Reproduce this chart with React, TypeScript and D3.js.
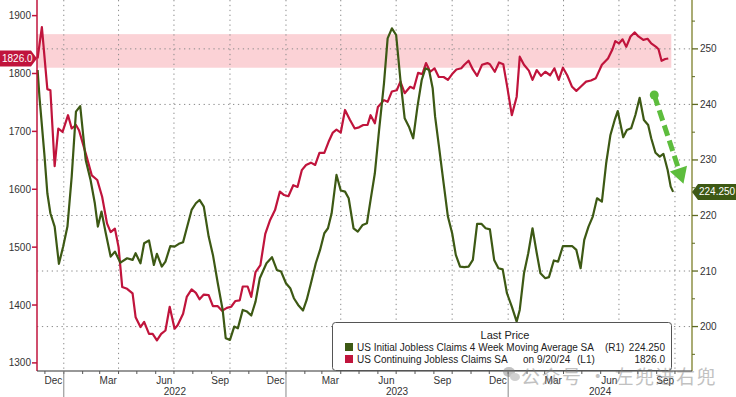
import React, { useEffect, useRef } from 'react';
import * as d3 from 'd3';

// US Initial Jobless Claims 4 Week Moving Average SA (thousands, right axis)
const initialClaims: [string, number][] = [
  ['2021-11-19', 246.2], ['2021-11-22', 241.4], ['2021-11-30', 231.2], ['2021-12-05', 224.0],
  ['2021-12-10', 220.4], ['2021-12-17', 218.0], ['2021-12-24', 211.3], ['2021-12-31', 214.4],
  ['2022-01-07', 218.0], ['2022-01-14', 227.0], ['2022-01-21', 238.7], ['2022-01-28', 239.7],
  ['2022-02-06', 230.0], ['2022-02-14', 226.4], ['2022-02-21', 222.2], ['2022-02-26', 218.0],
  ['2022-03-04', 220.7], ['2022-03-11', 216.8], ['2022-03-19', 212.6], ['2022-03-26', 213.5],
  ['2022-04-04', 211.5], ['2022-04-15', 212.3], ['2022-04-24', 212.0], ['2022-04-29', 213.2],
  ['2022-05-07', 211.4], ['2022-05-13', 215.0], ['2022-05-21', 215.5], ['2022-05-29', 211.1],
  ['2022-06-03', 213.1], ['2022-06-11', 210.8], ['2022-06-17', 211.7], ['2022-06-25', 214.5],
  ['2022-07-02', 214.4], ['2022-07-09', 214.9], ['2022-07-16', 215.2], ['2022-07-22', 217.7],
  ['2022-07-30', 221.0], ['2022-08-06', 222.2], ['2022-08-12', 222.8], ['2022-08-19', 221.6],
  ['2022-08-27', 216.2], ['2022-09-03', 212.9], ['2022-09-11', 207.8], ['2022-09-19', 203.0],
  ['2022-09-24', 197.9], ['2022-10-01', 197.6], ['2022-10-08', 200.0], ['2022-10-14', 199.7],
  ['2022-10-22', 203.0], ['2022-10-29', 202.7], ['2022-11-05', 202.0], ['2022-11-12', 204.5],
  ['2022-11-19', 208.7], ['2022-11-30', 211.4], ['2022-12-09', 212.5], ['2022-12-17', 210.2],
  ['2022-12-24', 209.9], ['2023-01-01', 207.8], ['2023-01-08', 206.9], ['2023-01-14', 205.1],
  ['2023-01-21', 203.9], ['2023-01-29', 202.9], ['2023-02-04', 204.8], ['2023-02-11', 207.8],
  ['2023-02-19', 211.4], ['2023-02-26', 213.8], ['2023-03-05', 216.8], ['2023-03-11', 217.7],
  ['2023-03-17', 220.4], ['2023-03-25', 227.3], ['2023-04-01', 224.5], ['2023-04-08', 224.3],
  ['2023-04-14', 223.1], ['2023-04-22', 217.7], ['2023-04-29', 217.1], ['2023-05-07', 218.3],
  ['2023-05-14', 218.6], ['2023-05-20', 222.8], ['2023-05-27', 227.6], ['2023-06-03', 235.4],
  ['2023-06-11', 243.8], ['2023-06-17', 251.9], ['2023-06-24', 253.7], ['2023-07-01', 252.5],
  ['2023-07-08', 244.4], ['2023-07-15', 237.5], ['2023-07-22', 236.0], ['2023-07-29', 233.9],
  ['2023-08-05', 239.6], ['2023-08-12', 244.4], ['2023-08-18', 246.5], ['2023-08-24', 246.2],
  ['2023-08-30', 242.9], ['2023-09-03', 237.8], ['2023-09-09', 232.7], ['2023-09-17', 225.8],
  ['2023-09-24', 219.8], ['2023-10-01', 216.8], ['2023-10-07', 212.9], ['2023-10-14', 210.8],
  ['2023-10-21', 210.7], ['2023-10-28', 210.8], ['2023-11-04', 212.0], ['2023-11-11', 218.5],
  ['2023-11-18', 218.5], ['2023-11-25', 217.7], ['2023-12-02', 217.5], ['2023-12-09', 212.0],
  ['2023-12-16', 210.5], ['2023-12-23', 210.3], ['2023-12-30', 206.0], ['2024-01-07', 203.6],
  ['2024-01-15', 200.9], ['2024-01-20', 203.0], ['2024-01-27', 209.6], ['2024-02-03', 213.2],
  ['2024-02-10', 217.7], ['2024-02-17', 213.2], ['2024-02-23', 209.6], ['2024-03-02', 208.7],
  ['2024-03-08', 208.9], ['2024-03-16', 211.9], ['2024-03-23', 211.7], ['2024-03-31', 214.5],
  ['2024-04-08', 214.5], ['2024-04-15', 214.5], ['2024-04-22', 213.8], ['2024-04-29', 210.5],
  ['2024-05-05', 215.6], ['2024-05-12', 218.0], ['2024-05-19', 219.8], ['2024-05-26', 223.1],
  ['2024-06-03', 222.5], ['2024-06-10', 229.4], ['2024-06-17', 234.5], ['2024-06-24', 237.2],
  ['2024-06-29', 238.8], ['2024-07-08', 234.1], ['2024-07-14', 235.4], ['2024-07-21', 235.7],
  ['2024-07-28', 238.1], ['2024-08-04', 241.2], ['2024-08-11', 237.2], ['2024-08-18', 236.3],
  ['2024-08-23', 233.9], ['2024-08-30', 231.3], ['2024-09-06', 230.6], ['2024-09-12', 231.1],
  ['2024-09-19', 228.2], ['2024-09-24', 225.2], ['2024-09-28', 224.25],
];

// US Continuing Jobless Claims SA (thousands, left axis)
const continuingClaims: [string, number][] = [
  ['2021-11-19', 1826], ['2021-11-26', 1880], ['2021-12-05', 1773], ['2021-12-10', 1771],
  ['2021-12-17', 1640], ['2021-12-23', 1705], ['2021-12-30', 1699], ['2022-01-08', 1728],
  ['2022-01-14', 1705], ['2022-01-21', 1711], ['2022-01-26', 1702], ['2022-02-06', 1662],
  ['2022-02-16', 1624], ['2022-02-25', 1616], ['2022-03-05', 1587], ['2022-03-13', 1541],
  ['2022-03-19', 1526], ['2022-03-26', 1532], ['2022-04-01', 1500], ['2022-04-07', 1431],
  ['2022-04-15', 1428], ['2022-04-24', 1420], ['2022-04-29', 1379], ['2022-05-07', 1362],
  ['2022-05-13', 1371], ['2022-05-21', 1350], ['2022-05-27', 1350], ['2022-06-03', 1339],
  ['2022-06-10', 1350], ['2022-06-17', 1356], ['2022-06-24', 1397], ['2022-07-02', 1359],
  ['2022-07-07', 1365], ['2022-07-16', 1385], ['2022-07-22', 1414], ['2022-07-30', 1427],
  ['2022-08-06', 1421], ['2022-08-12', 1410], ['2022-08-19', 1418], ['2022-08-27', 1417],
  ['2022-09-03', 1398], ['2022-09-11', 1398], ['2022-09-18', 1390], ['2022-09-26', 1395],
  ['2022-10-03', 1397], ['2022-10-10', 1407], ['2022-10-17', 1408], ['2022-10-22', 1432],
  ['2022-10-30', 1432], ['2022-11-05', 1414], ['2022-11-12', 1457], ['2022-11-20', 1469],
  ['2022-11-28', 1523], ['2022-12-06', 1547], ['2022-12-14', 1564], ['2022-12-22', 1596],
  ['2022-12-29', 1590], ['2023-01-05', 1588], ['2023-01-13', 1607], ['2023-01-20', 1604],
  ['2023-01-27', 1633], ['2023-02-03', 1642], ['2023-02-11', 1646], ['2023-02-18', 1642],
  ['2023-02-25', 1663], ['2023-03-05', 1663], ['2023-03-12', 1682], ['2023-03-19', 1698],
  ['2023-03-25', 1703], ['2023-04-01', 1698], ['2023-04-08', 1737], ['2023-04-16', 1720],
  ['2023-04-24', 1705], ['2023-05-01', 1707], ['2023-05-08', 1711], ['2023-05-15', 1711],
  ['2023-05-20', 1728], ['2023-05-27', 1714], ['2023-06-01', 1742], ['2023-06-11', 1754],
  ['2023-06-17', 1751], ['2023-06-24', 1769], ['2023-07-02', 1771], ['2023-07-08', 1786],
  ['2023-07-15', 1766], ['2023-07-24', 1777], ['2023-07-30', 1774], ['2023-08-06', 1801],
  ['2023-08-13', 1799], ['2023-08-19', 1818], ['2023-08-26', 1803], ['2023-09-02', 1809],
  ['2023-09-09', 1794], ['2023-09-17', 1794], ['2023-09-24', 1789], ['2023-10-01', 1799],
  ['2023-10-08', 1807], ['2023-10-16', 1809], ['2023-10-21', 1815], ['2023-10-28', 1822],
  ['2023-11-04', 1807], ['2023-11-11', 1796], ['2023-11-19', 1815], ['2023-11-28', 1818],
  ['2023-12-02', 1816], ['2023-12-10', 1803], ['2023-12-17', 1819], ['2023-12-24', 1816],
  ['2023-12-30', 1780], ['2024-01-07', 1728], ['2024-01-15', 1760], ['2024-01-20', 1829],
  ['2024-01-27', 1815], ['2024-02-04', 1805], ['2024-02-10', 1789], ['2024-02-17', 1806],
  ['2024-02-24', 1796], ['2024-03-02', 1803], ['2024-03-10', 1797], ['2024-03-17', 1809],
  ['2024-03-24', 1789], ['2024-03-31', 1810], ['2024-04-07', 1797], ['2024-04-15', 1777],
  ['2024-04-22', 1770], ['2024-04-30', 1778], ['2024-05-08', 1786], ['2024-05-16', 1788],
  ['2024-05-24', 1792], ['2024-06-03', 1815], ['2024-06-13', 1826], ['2024-06-20', 1841],
  ['2024-06-25', 1856], ['2024-07-01', 1852], ['2024-07-07', 1859], ['2024-07-13', 1846],
  ['2024-07-20', 1864], ['2024-07-27', 1871], ['2024-08-02', 1864], ['2024-08-10', 1858],
  ['2024-08-17', 1860], ['2024-08-23', 1852], ['2024-08-31', 1846], ['2024-09-04', 1842],
  ['2024-09-09', 1822], ['2024-09-15', 1825], ['2024-09-20', 1826],
];

const leftTicks = [1300, 1400, 1500, 1600, 1700, 1800, 1900];
const rightTicks = [200, 210, 220, 230, 240, 250];
const rightMinorTicks = [195, 205, 215, 225, 235, 245, 255];
const labelMonths = ['Dec', 'Mar', 'Jun', 'Sep'];
const dateRange = ['2021-11-18', '2024-10-29'];
const bandRange = [1810, 1868]; // highlighted range on the left axis
const bandEnd = '2024-09-25';
const lastInitial = '224.250';
const lastContinuing = '1826.0';
const arrowFrom: [string, number] = ['2024-08-28', 241.7];
const arrowTo: [string, number] = ['2024-10-15', 225.7];
const legendTitle = 'Last Price';
const legendRows = [
  { name: 'US Initial Jobless Claims 4 Week Moving Average SA', date: '', axis: '(R1)', value: lastInitial },
  { name: 'US Continuing Jobless Claims SA', date: 'on 9/20/24', axis: '(L1)', value: lastContinuing },
];
const watermark = '公众号 · 左兜进右兜';

const GREEN = '#3d5914';
const RED = '#c0143c';
const FONT = '"Liberation Sans", Arial, sans-serif';

const App = () => {
  const svgRef = useRef(null);

  useEffect(() => {
    const svg = d3.select(svgRef.current);
    svg.selectAll('*').remove();

    const parse = d3.timeParse('%Y-%m-%d');
    const x0 = 37, x1 = 692, yTop = 0, yBot = 371;
    const start = parse(dateRange[0]), end = parse(dateRange[1]);

    const x = d3.scaleTime().domain([start, end]).range([x0, x1]);
    const yL = d3.scaleLinear().domain([1286, 1927]).range([yBot, yTop]);
    const yR = d3.scaleLinear().domain([192, 258.8]).range([yBot, yTop]);

    svg.append('rect').attr('width', 736).attr('height', 397).attr('fill', '#fff');

    // highlighted band
    svg.append('rect')
      .attr('x', x0)
      .attr('y', yL(bandRange[1]))
      .attr('width', x(parse(bandEnd)) - x0)
      .attr('height', yL(bandRange[0]) - yL(bandRange[1]))
      .attr('fill', '#fbd2d6');

    // gridlines
    const grid = svg.append('g')
      .attr('stroke', '#8a8a8a')
      .attr('stroke-width', 1)
      .attr('stroke-dasharray', '1.3,3.6');
    grid.selectAll('line.h')
      .data(rightTicks)
      .join('line')
      .attr('class', 'h')
      .attr('x1', x0).attr('x2', x1)
      .attr('y1', d => yR(d)).attr('y2', d => yR(d));
    grid.selectAll('line.v')
      .data(d3.timeMonth.every(3).range(start, end))
      .join('line')
      .attr('class', 'v')
      .attr('x1', d => x(d)).attr('x2', d => x(d))
      .attr('y1', yTop).attr('y2', yBot);

    // series lines
    const lineL = d3.line<[string, number]>()
      .x(d => x(parse(d[0])))
      .y(d => yL(d[1]));
    const lineR = d3.line<[string, number]>()
      .x(d => x(parse(d[0])))
      .y(d => yR(d[1]));

    svg.append('path')
      .datum(continuingClaims)
      .attr('d', lineL)
      .attr('fill', 'none')
      .attr('stroke', RED)
      .attr('stroke-width', 2.2)
      .attr('stroke-linejoin', 'round');

    svg.append('path')
      .datum(initialClaims)
      .attr('d', lineR)
      .attr('fill', 'none')
      .attr('stroke', GREEN)
      .attr('stroke-width', 2.2)
      .attr('stroke-linejoin', 'round');

    // left axis
    const left = svg.append('g').style('font', `10px ${FONT}`);
    left.append('line')
      .attr('x1', x0).attr('x2', x0).attr('y1', yTop).attr('y2', yBot)
      .attr('stroke', RED).attr('stroke-width', 1.5);
    left.selectAll('line.t')
      .data(leftTicks)
      .join('line')
      .attr('class', 't')
      .attr('x1', x0 - 5).attr('x2', x0)
      .attr('y1', d => yL(d)).attr('y2', d => yL(d))
      .attr('stroke', RED).attr('stroke-width', 1.5);
    left.selectAll('text')
      .data(leftTicks)
      .join('text')
      .attr('x', x0 - 6)
      .attr('y', d => yL(d))
      .attr('dy', '0.35em')
      .attr('text-anchor', 'end')
      .attr('fill', '#333')
      .text(d => d);

    // right axis
    const right = svg.append('g').style('font', `10px ${FONT}`);
    right.append('line')
      .attr('x1', x1).attr('x2', x1).attr('y1', yTop).attr('y2', yBot)
      .attr('stroke', '#8e9146').attr('stroke-width', 1.5);
    right.selectAll('line.t')
      .data(rightTicks)
      .join('line')
      .attr('class', 't')
      .attr('x1', x1).attr('x2', x1 + 6)
      .attr('y1', d => yR(d)).attr('y2', d => yR(d))
      .attr('stroke', '#5f6a22').attr('stroke-width', 1.3);
    right.selectAll('line.m')
      .data(rightMinorTicks)
      .join('line')
      .attr('class', 'm')
      .attr('x1', x1).attr('x2', x1 + 3)
      .attr('y1', d => yR(d)).attr('y2', d => yR(d))
      .attr('stroke', '#5f6a22').attr('stroke-width', 1);
    right.selectAll('text')
      .data(rightTicks)
      .join('text')
      .attr('x', x1 + 8)
      .attr('y', d => yR(d))
      .attr('dy', '0.35em')
      .attr('fill', '#333')
      .text(d => d);

    // bottom axis
    const bottom = svg.append('g').style('font', `10px ${FONT}`);
    bottom.append('line')
      .attr('x1', x0).attr('x2', x1).attr('y1', yBot).attr('y2', yBot)
      .attr('stroke', '#333').attr('stroke-width', 1.2);
    bottom.selectAll('line.m')
      .data(d3.timeMonth.range(start, end))
      .join('line')
      .attr('class', 'm')
      .attr('x1', d => x(d)).attr('x2', d => x(d))
      .attr('y1', yBot).attr('y2', yBot + 3)
      .attr('stroke', '#555');
    const years = d3.timeYear.range(start, end);
    bottom.selectAll('line.y')
      .data(years)
      .join('line')
      .attr('class', 'y')
      .attr('x1', d => x(d)).attr('x2', d => x(d))
      .attr('y1', yBot).attr('y2', 397)
      .attr('stroke', '#888');
    const labelled = d3.timeMonth.range(start, end)
      .filter(d => labelMonths.includes(d3.timeFormat('%b')(d)));
    bottom.selectAll('text.m')
      .data(labelled)
      .join('text')
      .attr('class', 'm')
      .attr('x', d => x(d3.timeDay.offset(d, 14)))
      .attr('y', 384)
      .attr('text-anchor', 'middle')
      .attr('fill', '#333')
      .text(d => d3.timeFormat('%b')(d));
    bottom.selectAll('text.y')
      .data(years)
      .join('text')
      .attr('class', 'y')
      .attr('x', d => (x(d) + x(d3.min([d3.timeYear.offset(d, 1), end]))) / 2)
      .attr('y', 395)
      .attr('text-anchor', 'middle')
      .attr('fill', '#333')
      .text(d => d3.timeFormat('%Y')(d));

    // last value tags
    const tagL = yL(+lastContinuing);
    svg.append('path')
      .attr('d', `M0,${tagL - 8}H${x0 - 6}L${x0},${tagL}L${x0 - 6},${tagL + 8}H0Z`)
      .attr('fill', RED);
    svg.append('text')
      .attr('x', 2).attr('y', tagL).attr('dy', '0.35em')
      .style('font', `10px ${FONT}`).attr('fill', '#fff')
      .text(lastContinuing);

    const tagR = yR(+lastInitial);
    svg.append('path')
      .attr('d', `M${x1},${tagR}L${x1 + 6},${tagR - 8}H736V${tagR + 8}H${x1 + 6}Z`)
      .attr('fill', GREEN);
    svg.append('text')
      .attr('x', x1 + 7).attr('y', tagR).attr('dy', '0.35em')
      .style('font', `10px ${FONT}`).attr('fill', '#fff')
      .text(lastInitial);

    // legend
    const lg = svg.append('g').style('font', `10px ${FONT}`);
    lg.append('rect')
      .attr('x', 332.5).attr('y', 322.5).attr('width', 339).attr('height', 48)
      .attr('rx', 3).attr('fill', '#fff').attr('stroke', '#555');
    lg.append('text')
      .attr('x', 505).attr('y', 339).attr('text-anchor', 'middle')
      .style('font-size', '11px').attr('fill', '#222').text(legendTitle);
    const rowColors = [GREEN, RED];
    legendRows.forEach((r, i) => {
      const y = 351 + i * 12;
      lg.append('rect').attr('x', 345).attr('y', y - 8).attr('width', 8).attr('height', 8)
        .attr('fill', rowColors[i]);
      lg.append('text').attr('x', 357).attr('y', y).attr('fill', '#222').text(r.name);
      if (r.date) lg.append('text').attr('x', 523).attr('y', y).attr('fill', '#222').text(r.date);
      lg.append('text').attr('x', i === 0 ? 605 : 577).attr('y', y).attr('fill', '#222').text(r.axis);
      lg.append('text').attr('x', 665).attr('y', y).attr('text-anchor', 'end')
        .attr('fill', '#222').text(r.value);
    });

    // dashed annotation arrow
    const ax0 = x(parse(arrowFrom[0])), ay0 = yR(arrowFrom[1]);
    const ax1 = x(parse(arrowTo[0])), ay1 = yR(arrowTo[1]);
    const len = Math.hypot(ax1 - ax0, ay1 - ay0);
    const ux = (ax1 - ax0) / len, uy = (ay1 - ay0) / len;
    const headLen = 16, headW = 9;
    const bx = ax1 - ux * headLen, by = ay1 - uy * headLen;
    const arrow = svg.append('g').attr('fill', '#5dbd3d');
    arrow.append('line')
      .attr('x1', ax0).attr('y1', ay0).attr('x2', bx).attr('y2', by)
      .attr('stroke', '#5dbd3d').attr('stroke-width', 5)
      .attr('stroke-dasharray', '11,5');
    arrow.append('circle').attr('cx', ax0).attr('cy', ay0).attr('r', 4.5);
    arrow.append('path')
      .attr('d', `M${ax1},${ay1}L${bx - uy * headW},${by + ux * headW}L${bx + uy * headW},${by - ux * headW}Z`);

    // watermark
    const wm = svg.append('g').attr('opacity', 0.45);
    wm.append('ellipse').attr('cx', 509).attr('cy', 372).attr('rx', 6).attr('ry', 5).attr('fill', '#777');
    wm.append('ellipse').attr('cx', 515).attr('cy', 377).attr('rx', 5).attr('ry', 4).attr('fill', '#999');
    wm.append('text')
      .attr('x', 521).attr('y', 384)
      .style('font', '19px "Noto Sans CJK SC", sans-serif')
      .attr('fill', '#777')
      .attr('letter-spacing', '1.5')
      .text(watermark);
  }, []);

  return (
    <svg ref={svgRef} width={736} height={397}
      style={{ position: 'absolute', left: 0, top: 0, display: 'block' }} />
  );
};

export default App;
